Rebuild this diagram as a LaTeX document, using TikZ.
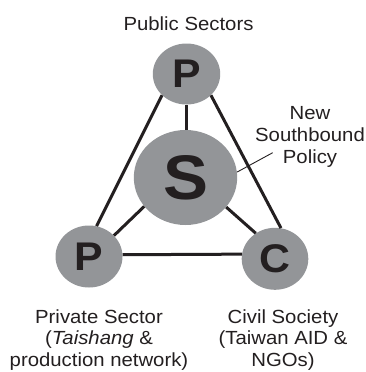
\documentclass[tikz,border=0pt]{standalone}
\usepackage{fontspec}
\setmainfont{Liberation Sans}[FakeStretch=1.07]
\usetikzlibrary{shapes.geometric}
\definecolor{circfill}{RGB}{147,149,152}
\definecolor{ink}{RGB}{35,31,32}
\tikzset{
  actor/.style={ellipse, fill=circfill, inner sep=0pt, text=ink,
    font=\fontsize{40}{40}\selectfont\bfseries},
  link/.style={draw=ink, line width=3pt},
  callout/.style={draw=ink, line width=0.9pt},
  label/.style={align=center, text=ink, inner sep=0pt,
    font=\fontsize{19}{21.7}\selectfont}
}
\begin{document}
\begin{tikzpicture}[x=1pt,y=-1pt]
\useasboundingbox (0,0) rectangle (366,372);
% circles
\node[actor, minimum width=67.4pt, minimum height=61pt] (Ptop) at (186.5,74) {P};
\node[actor, minimum width=103.4pt, minimum height=95pt,
      font=\fontsize{63}{63}\selectfont\bfseries] (S) at (185.5,177.5) {S};
\node[actor, minimum width=67pt, minimum height=62pt] (Pl) at (89,256.5) {P};
\node[actor, minimum width=66.6pt, minimum height=62pt] (C) at (275,258.8) {C};
% connectors
\draw[link] (Ptop.221) -- (Pl.76);
\draw[link] (Ptop.319) -- (C.79.4);
\draw[link] (Ptop.south) -- (Ptop.south |- S.north);
\draw[link] (S.215.7) -- (Pl.40.7);
\draw[link] (S.324.2) -- (C.127.5);
\draw[link] (Pl.3.8) -- (C.172.2);
% labels
\node[label, anchor=base] (pub) at (188.5,30) {Public Sectors};
\node[label, anchor=base] (nsp) at (310,163) {New\\Southbound\\Policy};
\coordinate (nspend) at (272.7,152.7);
\draw[callout] (S.6.5) -- (nspend);
\node[label, anchor=base] (priv) at (99,366.5) {Private Sector\\(\textit{Taishang} \&\\production network)};
\node[label, anchor=base] (civ) at (283,366.5) {Civil Society\\(Taiwan AID \&\\NGOs)};
\end{tikzpicture}
\end{document}
